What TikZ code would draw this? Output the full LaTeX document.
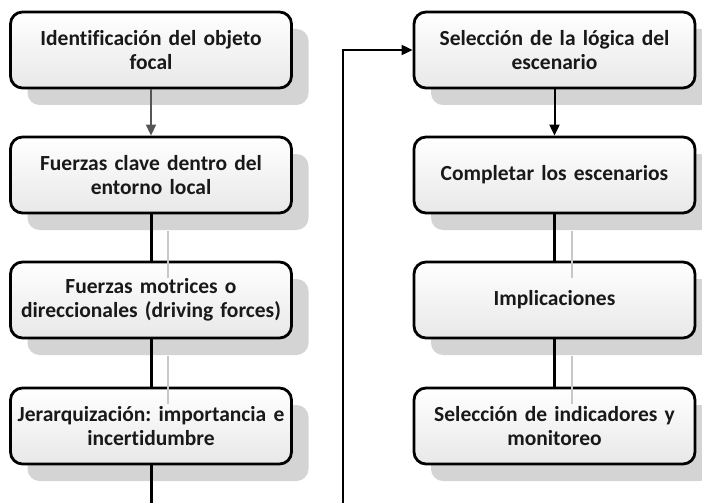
\documentclass[tikz,border=0pt]{standalone}
\usepackage{fontspec}
\setmainfont{Carlito}[Ligatures=NoCommon]
\frenchspacing
\usetikzlibrary{arrows.meta}
\definecolor{shadowgray}{RGB}{212,212,212}
\definecolor{lineshadow}{RGB}{200,200,200}
\definecolor{txt}{RGB}{25,25,25}
\definecolor{arrgray}{RGB}{85,85,85}
\tikzset{
  stepbox/.style={draw=black, line width=2.8pt, rounded corners=12pt,
    minimum width=281pt, minimum height=76pt, inner sep=2pt,
    top color=white, bottom color={rgb,255:red,232;green,232;blue,232},
    align=center, text width=277pt, text=txt,
    font=\bfseries\fontsize{21.5}{24}\selectfont},
  boxshadow/.style={fill=shadowgray, rounded corners=12pt, draw=none,
    minimum width=281pt, minimum height=76pt},
  thickcon/.style={draw=black, line width=3pt},
  conshadow/.style={draw=lineshadow, line width=2pt},
  arr/.style={line width=2pt, -{Triangle[length=11pt,width=10pt]}},
}
\begin{document}
\begin{tikzpicture}[x=1pt,y=-1pt]
\useasboundingbox (0,0) rectangle (702,503);
\fill[white] (0,0) rectangle (702,503);
% shadows
\foreach \x in {168,571.5}{
  \foreach \y in {67,192,317,443}{
    \node[boxshadow] at (\x,\y) {};
  }
}
% boxes
\node[stepbox] (l1) at (151,50) {Identificación del objeto\\focal};
\node[stepbox] (l2) at (151,175) {Fuerzas clave dentro del\\entorno local};
\node[stepbox] (l3) at (151,300) {Fuerzas motrices o\\direccionales (driving forces)};
\node[stepbox] (l4) at (151,426) {Jerarquización: importancia e\\incertidumbre};
\node[stepbox] (r1) at (554.5,50) {Selección de la lógica del\\escenario};
\node[stepbox] (r2) at (554.5,175) {Completar los escenarios};
\node[stepbox] (r3) at (554.5,300) {Implicaciones};
\node[stepbox] (r4) at (554.5,426) {Selección de indicadores y\\monitoreo};
% coordinates for free ends
\coordinate (e1) at (151,503);
\coordinate (e2) at (343,503);
% connectors
\draw[arr, draw=arrgray, fill=arrgray, line width=1.6pt] (l1.south) -- (l2.north);
\draw[thickcon] (l2.south) -- (l3.north);
\draw[thickcon] (l3.south) -- (l4.north);
\draw[thickcon] (l4.south) -- (e1);
\draw[arr] (e2) |- (r1.west);
\draw[arr] (r1.south) -- (r2.north);
\draw[thickcon] (r2.south) -- (r3.north);
\draw[thickcon] (r3.south) -- (r4.north);
% connector shadows
\draw[conshadow] ([xshift=17pt,yshift=-17pt]l2.south) -- ([xshift=17pt,yshift=-17pt]l3.north);
\draw[conshadow] ([xshift=17pt,yshift=-17pt]l3.south) -- ([xshift=17pt,yshift=-17pt]l4.north);
\draw[conshadow] ([xshift=17pt,yshift=-17pt]r2.south) -- ([xshift=17pt,yshift=-17pt]r3.north);
\draw[conshadow] ([xshift=17pt,yshift=-17pt]r3.south) -- ([xshift=17pt,yshift=-17pt]r4.north);
\end{tikzpicture}
\end{document}
